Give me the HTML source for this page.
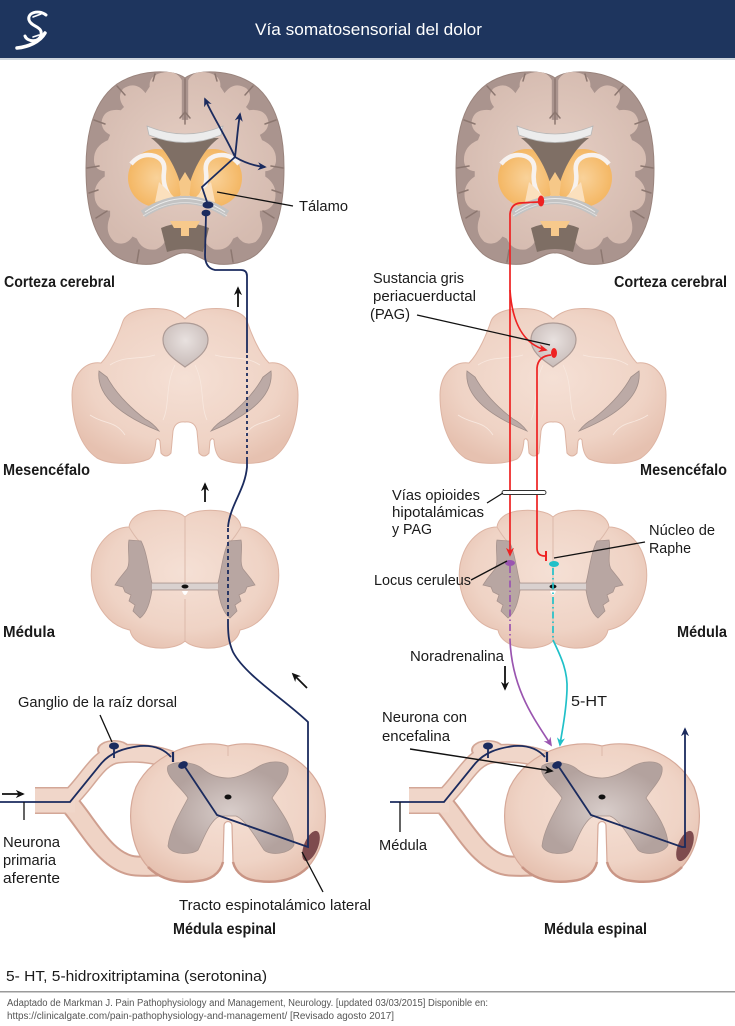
<!DOCTYPE html>
<html>
<head>
<meta charset="utf-8">
<style>
html,body{margin:0;padding:0;background:#fff;}
svg{display:block;}
text{font-family:"Liberation Sans",sans-serif;fill:#1a1a1a;}
.b{font-weight:bold;font-size:15.5px;}
.r{font-size:14.5px;}
</style>
</head>
<body>
<svg width="735" height="1026" viewBox="0 0 735 1026" xmlns="http://www.w3.org/2000/svg">
<defs>
  <radialGradient id="gPink" cx="50%" cy="45%" r="60%">
    <stop offset="0" stop-color="#f5e0d5"/>
    <stop offset="0.7" stop-color="#efd3c5"/>
    <stop offset="1" stop-color="#e6c1b0"/>
  </radialGradient>
  <radialGradient id="gWM" cx="50%" cy="50%" r="55%">
    <stop offset="0" stop-color="#e6cfc4"/>
    <stop offset="1" stop-color="#d5bbb0"/>
  </radialGradient>
  <radialGradient id="gOr" cx="50%" cy="50%" r="50%">
    <stop offset="0" stop-color="#f9d29a"/>
    <stop offset="1" stop-color="#f4b764"/>
  </radialGradient>
  <radialGradient id="gGray" cx="50%" cy="55%" r="50%">
    <stop offset="0" stop-color="#d8cdca"/>
    <stop offset="1" stop-color="#b3a29e"/>
  </radialGradient>
  <radialGradient id="gAq" cx="50%" cy="40%" r="55%">
    <stop offset="0" stop-color="#e8e1df"/>
    <stop offset="1" stop-color="#cbbfbc"/>
  </radialGradient>
  <marker id="aN" viewBox="0 0 10 10" refX="8" refY="5" markerWidth="9" markerHeight="9" markerUnits="userSpaceOnUse" orient="auto"><path d="M0,0.5 L10,5 L0,9.5 L3,5 Z" fill="#1b2b5e"/></marker>
  <marker id="aK" viewBox="0 0 10 10" refX="8" refY="5" markerWidth="9" markerHeight="9" markerUnits="userSpaceOnUse" orient="auto"><path d="M0,0.5 L10,5 L0,9.5 L3,5 Z" fill="#111"/></marker>
  <marker id="aR" viewBox="0 0 10 10" refX="8" refY="5" markerWidth="9" markerHeight="9" markerUnits="userSpaceOnUse" orient="auto"><path d="M0,0.5 L10,5 L0,9.5 L3,5 Z" fill="#ee2222"/></marker>
  <marker id="aP" viewBox="0 0 10 10" refX="8" refY="5" markerWidth="9" markerHeight="9" markerUnits="userSpaceOnUse" orient="auto"><path d="M0,0.5 L10,5 L0,9.5 L3,5 Z" fill="#9a55b0"/></marker>
  <marker id="aC" viewBox="0 0 10 10" refX="8" refY="5" markerWidth="9" markerHeight="9" markerUnits="userSpaceOnUse" orient="auto"><path d="M0,0.5 L10,5 L0,9.5 L3,5 Z" fill="#20c0c8"/></marker>

  <!-- Brain coronal section -->
  <g id="brain">
    <path d="M0,-90 C12,-99 45,-99 68,-84 C90,-68 99,-38 99,0 C99,40 92,68 72,86 C58,97 35,99 22,93 C12,88 5,84 0,85 C-5,84 -12,88 -22,93 C-35,99 -58,97 -72,86 C-92,68 -99,40 -99,0 C-99,-38 -90,-68 -68,-84 C-45,-99 -12,-99 0,-90 Z" fill="#aa948e" stroke="#9a847d" stroke-width="1"/>
    <path transform="scale(1.07)" d="M3,-82 Q8,-92 22,-89 Q34,-86 33,-76 L37,-70 Q46,-82 58,-74 Q64,-66 57,-57 L60,-54 Q76,-56 78,-43 Q78,-35 70,-31 L72,-26 Q86,-20 85,-6 Q84,2 75,3 L75,8 Q87,16 84,30 Q81,40 70,40 L70,45 Q76,60 66,69 Q56,74 49,64 L45,66 Q40,78 27,76 Q18,72 18,64 L8,56 L0,54 L-8,56 L-18,64 Q-18,72 -27,76 Q-40,78 -45,66 L-49,64 Q-56,74 -66,69 Q-76,60 -70,45 L-70,40 Q-81,40 -84,30 Q-87,16 -75,8 L-75,3 Q-84,2 -85,-6 Q-86,-20 -72,-26 L-70,-31 Q-78,-35 -78,-43 Q-76,-56 -60,-54 L-57,-57 Q-64,-66 -58,-74 Q-46,-82 -37,-70 L-33,-76 Q-34,-86 -22,-89 Q-8,-92 -3,-82 L-3,-45 L3,-45 Z" fill="url(#gWM)"/>
    <g stroke="#8c7770" stroke-width="1.5" fill="none" stroke-linecap="round">
      <path d="M0,-89 L0,-44"/>
      <path d="M0,-56 L-5,-50 M0,-56 L5,-50"/>
      <path d="M-98,0 L-86,-2 M98,0 L86,-2"/>
      <path d="M-68,-82 L-60,-73 M68,-82 L60,-73"/>
      <path d="M-91,-48 L-80,-44 M91,-48 L80,-44"/>
      <path d="M-89,50 L-78,43 M89,50 L78,43"/>
      <path d="M-48,94 L-46,82 M48,94 L46,82"/>
      <path d="M-30,-94 L-32,-87 M30,-94 L32,-87"/>
      <path d="M-96,25 L-87,22 M96,25 L87,22"/>
    </g>
    <!-- basal ganglia -->
    <circle cx="-28" cy="10" r="29" fill="url(#gOr)"/>
    <circle cx="28" cy="10" r="29" fill="url(#gOr)"/>
    <path d="M-54,-4 Q-44,-16 -30,-12 Q-19,-8 -21,4 Q-23,18 -14,30" stroke="#f7f2ef" stroke-width="4.5" fill="none"/>
    <path d="M54,-4 Q44,-16 30,-12 Q19,-8 21,4 Q23,18 14,30" stroke="#f7f2ef" stroke-width="4.5" fill="none"/>
    <path d="M-26,14 L-10,30 L-30,34 Z" fill="#fbe0bd"/>
    <path d="M26,14 L10,30 L30,34 Z" fill="#fbe0bd"/>
    <!-- ventricle -->
    <path d="M-34,-30 L34,-30 C20,-20 8,0 3,22 L-3,22 C-8,0 -20,-20 -34,-30 Z" fill="#7f6f65"/>
    <path d="M-6,14 L0,4 L6,14 L4,30 L-4,30 Z" fill="#f6c888"/>
    <!-- corpus callosum -->
    <path d="M-38,-42 Q0,-26 38,-42 L36,-33 Q0,-18 -36,-33 Z" fill="#ececec" stroke="#b8b8b8" stroke-width="0.8"/>
    <!-- hippocampal arcs -->
    <path d="M-42,46 Q0,18 42,46" stroke="#c3c3c3" stroke-width="8" fill="none"/>
    <path d="M-40,44 Q0,17 40,44" stroke="#ececec" stroke-width="1" fill="none"/>
    <path d="M-42,48 Q0,21 42,48" stroke="#e2e2e2" stroke-width="0.8" fill="none"/>
    <!-- bottom center -->
    <path d="M-24,60 Q0,50 24,60 L18,84 Q0,78 -18,84 Z" fill="#7e6e64"/>
    <path d="M-15,53 L15,53 L11,60 L4,60 L4,68 L-4,68 L-4,60 L-11,60 Z" fill="#f7c98c"/>
  </g>

  <!-- Mesencephalon -->
  <g id="mesen">
    <path d="M0,-66 C4,-70 12,-75 22,-76 C40,-78 58,-74 62,-64 C66,-52 74,-32 84,-22 C100,-24 113,-10 113,10 C113,38 104,62 88,73 C75,80 50,80 36,74 Q30,70 29,55 Q27,52 25,56 L24,68 Q19,74 14,68 L12,46 Q10,36 0,37 Q-10,36 -12,46 L-14,68 Q-19,74 -24,68 L-25,56 Q-27,52 -29,55 Q-30,70 -36,74 C-50,80 -75,80 -88,73 C-104,62 -113,38 -113,10 C-113,-10 -100,-24 -84,-22 C-74,-32 -66,-52 -62,-64 C-58,-74 -40,-78 -22,-76 C-12,-75 -4,-70 0,-66 Z" fill="url(#gPink)" stroke="#ddb4a3" stroke-width="1"/>
    <g stroke="#f8e8df" stroke-width="0.8" fill="none">
      <path d="M-10,-20 C-20,0 -15,20 -22,35"/>
      <path d="M10,-20 C20,0 15,20 22,35"/>
      <path d="M-30,-30 C-45,-25 -60,-30 -75,-20"/>
      <path d="M30,-30 C45,-25 60,-30 75,-20"/>
      <path d="M-95,30 C-80,40 -70,35 -60,50"/>
      <path d="M95,30 C80,40 70,35 60,50"/>
    </g>
    <path d="M0,-18 C-8,-24 -22,-32 -22,-45 C-22,-58 -10,-62 0,-62 C10,-62 23,-58 23,-45 C23,-32 8,-24 0,-18 Z" fill="url(#gAq)" stroke="#ad9b96" stroke-width="1.2"/>
    <path d="M-86,-14 Q-90,20 -26,46 Q-32,38 -40,34 Q-66,14 -78,-8 Z" fill="#bcaaa6" stroke="#a08e89" stroke-width="0.8"/>
    <path d="M86,-14 Q90,20 26,46 Q32,38 40,34 Q66,14 78,-8 Z" fill="#bcaaa6" stroke="#a08e89" stroke-width="0.8"/>
  </g>

  <!-- Medulla -->
  <g id="medulla">
    <path d="M0,-60 C-6,-66 -22,-68 -36,-66 C-48,-64 -55,-58 -56,-50 C-70,-50 -88,-38 -93,-12 C-96,8 -90,28 -76,42 C-68,50 -60,52 -55,53 C-53,64 -40,72 -20,71 C-10,70 -4,68 0,64 C4,68 10,70 20,71 C40,72 53,64 55,53 C60,52 68,50 76,42 C90,28 96,8 93,-12 C88,-38 70,-50 56,-50 C55,-58 48,-64 36,-66 C22,-68 6,-66 0,-60 Z" fill="url(#gPink)" stroke="#ddb4a3" stroke-width="1"/>
    <path d="M0,-60 L0,6 M0,22 L0,64 M-56,-50 Q-50,-40 -46,-36 M56,-50 Q50,-40 46,-36" stroke="#dcb9aa" stroke-width="1" fill="none"/>
    <path d="M-33,6 C-36,-5 -38,-25 -44,-36 L-56,-37 C-58,-28 -54,-15 -58,-8 L-66,2 L-70,8 L-62,10 L-60,15 L-54,18 L-56,24 L-50,28 L-52,34 L-45,41 C-38,36 -35,25 -33,13 L33,13 C35,25 38,36 45,41 L52,34 L50,28 L56,24 L54,18 L60,15 L62,10 L70,8 L66,2 L58,-8 C54,-15 58,-28 56,-37 L44,-36 C38,-25 36,-5 33,6 Z" fill="#b8a6a2" stroke="#a6928d" stroke-width="0.8"/>
    <rect x="-33" y="6.5" width="66" height="6" fill="#d9d1cf"/>
    <ellipse cx="0" cy="9.5" rx="3.5" ry="2" fill="#111"/>
    <path d="M-3,14 Q0,22 3,14 Z" fill="#fff"/>
  </g>

  <!-- Spinal cord with roots -->
  <g id="cord">
    <path d="M-160,-12 C-140,-30 -130,-56 -110,-58 C-90,-60 -70,-58 -52,-50" stroke="#d3a797" stroke-width="19" fill="none"/>
    <path d="M-160,-10 C-140,12 -122,52 -92,54 C-75,55 -60,54 -44,50" stroke="#cf9f8f" stroke-width="21" fill="none"/>
    <ellipse cx="-114" cy="-62" rx="17" ry="10" fill="#d3a797"/>
    <rect x="-193" y="-25" width="40" height="27" fill="#d3a797"/>
    <path d="M-160,-12 C-140,-30 -130,-56 -110,-58 C-90,-60 -70,-58 -52,-50" stroke="#f0d6c9" stroke-width="16" fill="none"/>
    <path d="M-160,-10 C-140,12 -122,52 -92,54 C-75,55 -60,54 -44,50" stroke="#efd3c5" stroke-width="17" fill="none"/>
    <ellipse cx="-114" cy="-62" rx="15" ry="8.5" fill="#f0d6c9"/>
    <rect x="-193" y="-23.5" width="40" height="24" fill="#f0d6c9"/>
    <path d="M0,-66 C30,-74 75,-60 92,-25 C102,0 98,35 80,55 C65,70 45,71 30,69 C18,68 8,62 5,50 L4,14 C4,8 -4,8 -4,14 L-5,50 C-8,62 -18,68 -30,69 C-45,71 -65,70 -80,55 C-98,35 -102,0 -92,-25 C-75,-60 -30,-74 0,-66 Z" fill="url(#gPink)" stroke="#d6a999" stroke-width="1.2"/>
    <path d="M-80,55 C-65,70 -45,71 -30,69 C-18,68 -8,62 -5,50 M5,50 C8,62 18,68 30,69 C45,71 65,70 80,55" stroke="#c99585" stroke-width="2.5" fill="none"/>
    <path d="M0,-66 L0,-56" stroke="#dcb9aa" stroke-width="1"/>
    <path d="M-60,-46 C-52,-52 -32,-50 -24,-42 C-16,-36 -8,-34 0,-34 C8,-34 18,-38 28,-44 C40,-52 56,-52 60,-45 C62,-34 50,-24 44,-14 C52,-2 66,16 66,33 C62,42 42,44 36,38 C28,26 18,8 8,4 L0,4 L-8,4 C-18,8 -24,26 -30,38 C-38,44 -58,42 -60,34 C-58,16 -46,-2 -40,-14 C-46,-24 -64,-36 -60,-46 Z" fill="url(#gGray)" stroke="#a8958f" stroke-width="0.8"/>
    <ellipse cx="0" cy="-15" rx="3.5" ry="2.5" fill="#111"/>
    <ellipse cx="83" cy="34" rx="7" ry="16" transform="rotate(22 83 34)" fill="#7e4b4e"/>
  </g>
</defs>

<!-- Header -->
<rect x="0" y="0" width="735" height="58" fill="#1e355e"/>
<rect x="0" y="58" width="735" height="2" fill="#cfd6de"/>
<g stroke="#fff" fill="none" stroke-linecap="round">
  <path d="M17,48 C28,47 40,42 45,33" stroke-width="3.5"/>
  <path d="M46,15 C38,9 27,13 29,20 C31,27 43,26 41,35 C39,43 27,42 25,36" stroke-width="3"/>
  <path d="M33,17 L41,14 M33,37 L39,35" stroke-width="1.6"/>
</g>
<text x="255" y="35" font-size="17" style="fill:#fff" textLength="227" lengthAdjust="spacingAndGlyphs">Vía somatosensorial del dolor</text>

<!-- Structures -->
<use href="#brain" transform="translate(185,168)"/>
<use href="#brain" transform="translate(555,168)"/>
<use href="#mesen" transform="translate(185,385)"/>
<use href="#mesen" transform="translate(553,385)"/>
<use href="#medulla" transform="translate(185,577)"/>
<use href="#medulla" transform="translate(553,577)"/>
<use href="#cord" transform="translate(228,812)"/>
<use href="#cord" transform="translate(602,812)"/>

<!-- LEFT navy pathway -->
<g stroke="#1b2b5e" stroke-width="1.8" fill="none">
  <path d="M0,802 L70,802 L100,765 C110,752 125,748 140,746 C155,745 165,750 171,757"/>
  <path d="M114,747 L114,758"/>
  <path d="M173,752 L173,762" stroke-width="2.2"/>
  <path d="M185,767 L217,815 L308,847 L308,722 C285,700 245,675 233,652 C229,643 228,635 228,623"/>
  <path d="M228,623 L228,527" stroke-dasharray="4,3"/>
  <path d="M228,527 C230,505 245,490 247,467 L247,460"/>
  <path d="M247,460 L247,353" stroke-dasharray="3,3"/>
  <path d="M247,353 L247,276 Q247,270 241,270 L215,270 Q205,268 205,255 L206,214"/>
  <path d="M208,205 L202,187 L235,157"/>
  <path d="M235,157 C245,163 255,166 265,167" marker-end="url(#aN)"/>
  <path d="M235,157 C237,140 238,125 240,114" marker-end="url(#aN)"/>
  <path d="M235,157 C225,135 212,115 205,99" marker-end="url(#aN)"/>
</g>
<g fill="#1b2b5e">
  <ellipse cx="114" cy="746" rx="5" ry="3.5"/>
  <ellipse cx="183" cy="765" rx="5" ry="3.5" transform="rotate(-25 183 765)"/>
  <ellipse cx="208" cy="205" rx="5.5" ry="3.5"/>
  <ellipse cx="206" cy="213" rx="4.5" ry="3.3"/>
</g>

<!-- RIGHT navy pathway -->
<g stroke="#1b2b5e" stroke-width="1.8" fill="none">
  <path d="M390,802 L444,802 L474,765 C484,752 499,748 514,746 C529,745 539,750 545,757"/>
  <path d="M488,747 L488,758"/>
  <path d="M547,752 L547,762" stroke-width="2.2"/>
  <path d="M559,767 L591,815 L682,847 L685,847 L685,729" marker-end="url(#aN)"/>
</g>
<g fill="#1b2b5e">
  <ellipse cx="488" cy="746" rx="5" ry="3.5"/>
  <ellipse cx="557" cy="765" rx="5" ry="3.5" transform="rotate(-25 557 765)"/>
</g>

<!-- Red pathways -->
<g stroke="#ee2222" stroke-width="1.7" fill="none">
  <path d="M538,202 L520,203 Q511,204 510,214 L510,555" marker-end="url(#aR)"/>
  <path d="M510,290 C512,320 522,344 546,350" marker-end="url(#aR)"/>
  <path d="M551,355 Q538,356 537,368 L537,548 Q537,556 545,556"/>
  <path d="M546,551 L546,561" stroke-width="2"/>
</g>
<ellipse cx="541" cy="201" rx="3.2" ry="5.5" fill="#ee2222"/>
<ellipse cx="554" cy="353" rx="3" ry="5" fill="#ee2222"/>

<!-- Purple & cyan -->
<path d="M510,566 L510,640" stroke="#9a55b0" stroke-width="1.7" stroke-dasharray="7,3,1.5,3" fill="none"/>
<path d="M510,640 C512,690 535,720 551,745" stroke="#9a55b0" stroke-width="1.7" fill="none" marker-end="url(#aP)"/>
<ellipse cx="510" cy="563" rx="5" ry="3" fill="#9a55b0"/>
<path d="M553,568 L553,640" stroke="#20c0c8" stroke-width="1.7" stroke-dasharray="7,3,1.5,3" fill="none"/>
<path d="M553,640 C560,655 568,670 567,690 C566,715 562,730 560,745" stroke="#20c0c8" stroke-width="1.7" fill="none" marker-end="url(#aC)"/>
<ellipse cx="554" cy="564" rx="5" ry="3" fill="#20c0c8"/>

<!-- Vías opioides bar -->
<rect x="502" y="490.5" width="44" height="4" rx="2" fill="#fff" stroke="#333" stroke-width="0.9"/>

<!-- Leader lines -->
<g stroke="#111" stroke-width="1.3" fill="none">
  <path d="M217,192 L293,206"/>
  <path d="M417,315 L550,345"/>
  <path d="M487,503 L503,493"/>
  <path d="M554,558 L645,542"/>
  <path d="M471,580 L507,561"/>
  <path d="M100,715 L112,742"/>
  <path d="M24,802 L24,820"/>
  <path d="M323,892 L302,852"/>
  <path d="M400,802 L400,832"/>
</g>
<!-- Black arrows -->
<g stroke="#111" stroke-width="1.8" fill="none">
  <path d="M238,307 L238,288" marker-end="url(#aK)"/>
  <path d="M205,502 L205,484" marker-end="url(#aK)"/>
  <path d="M307,688 L293,674" marker-end="url(#aK)"/>
  <path d="M2,794 L23,794" marker-end="url(#aK)"/>
  <path d="M505,666 L505,689" marker-end="url(#aK)"/>
  <path d="M410,749 L552,771" stroke-width="1.4" marker-end="url(#aK)"/>
</g>

<!-- Labels -->
<text class="b" x="4" y="287" textLength="111" lengthAdjust="spacingAndGlyphs">Corteza cerebral</text>
<text class="b" x="614" y="287" textLength="113" lengthAdjust="spacingAndGlyphs">Corteza cerebral</text>
<text class="r" x="299" y="211" textLength="49" lengthAdjust="spacingAndGlyphs">Tálamo</text>
<text class="r" x="373" y="283" textLength="91" lengthAdjust="spacingAndGlyphs">Sustancia gris</text>
<text class="r" x="373" y="301" textLength="103" lengthAdjust="spacingAndGlyphs">periacuerductal</text>
<text class="r" x="370" y="319" textLength="40" lengthAdjust="spacingAndGlyphs">(PAG)</text>
<text class="b" x="3" y="475" textLength="87" lengthAdjust="spacingAndGlyphs">Mesencéfalo</text>
<text class="b" x="640" y="475" textLength="87" lengthAdjust="spacingAndGlyphs">Mesencéfalo</text>
<text class="b" x="3" y="637" textLength="52" lengthAdjust="spacingAndGlyphs">Médula</text>
<text class="b" x="677" y="637" textLength="50" lengthAdjust="spacingAndGlyphs">Médula</text>
<text class="r" x="392" y="500" textLength="88" lengthAdjust="spacingAndGlyphs">Vías opioides</text>
<text class="r" x="392" y="517" textLength="92" lengthAdjust="spacingAndGlyphs">hipotalámicas</text>
<text class="r" x="392" y="534" textLength="40" lengthAdjust="spacingAndGlyphs">y PAG</text>
<text class="r" x="649" y="535" textLength="66" lengthAdjust="spacingAndGlyphs">Núcleo de</text>
<text class="r" x="649" y="553" textLength="42" lengthAdjust="spacingAndGlyphs">Raphe</text>
<text class="r" x="374" y="585" textLength="97" lengthAdjust="spacingAndGlyphs">Locus ceruleus</text>
<text class="r" x="410" y="661" textLength="94" lengthAdjust="spacingAndGlyphs">Noradrenalina</text>
<text class="r" x="571" y="706" textLength="36" lengthAdjust="spacingAndGlyphs">5-HT</text>
<text class="r" x="382" y="722" textLength="85" lengthAdjust="spacingAndGlyphs">Neurona con</text>
<text class="r" x="382" y="741" textLength="68" lengthAdjust="spacingAndGlyphs">encefalina</text>
<text class="r" x="18" y="707" textLength="159" lengthAdjust="spacingAndGlyphs">Ganglio de la raíz dorsal</text>
<text class="r" x="3" y="847" textLength="57" lengthAdjust="spacingAndGlyphs">Neurona</text>
<text class="r" x="3" y="865" textLength="53" lengthAdjust="spacingAndGlyphs">primaria</text>
<text class="r" x="3" y="883" textLength="57" lengthAdjust="spacingAndGlyphs">aferente</text>
<text class="r" x="379" y="850" textLength="48" lengthAdjust="spacingAndGlyphs">Médula</text>
<text class="r" x="179" y="910" textLength="192" lengthAdjust="spacingAndGlyphs">Tracto espinotalámico lateral</text>
<text class="b" x="173" y="934" textLength="103" lengthAdjust="spacingAndGlyphs">Médula espinal</text>
<text class="b" x="544" y="934" textLength="103" lengthAdjust="spacingAndGlyphs">Médula espinal</text>

<!-- Footer -->
<text x="6" y="981" font-size="15" textLength="261" lengthAdjust="spacingAndGlyphs">5- HT, 5-hidroxitriptamina (serotonina)</text>
<rect x="0" y="991" width="735" height="1.5" fill="#9a9a9a"/>
<text x="7" y="1006" font-size="10" style="fill:#555" textLength="481" lengthAdjust="spacingAndGlyphs">Adaptado de Markman J. Pain Pathophysiology and Management, Neurology. [updated 03/03/2015] Disponible en:</text>
<text x="7" y="1019" font-size="10" style="fill:#555" textLength="387" lengthAdjust="spacingAndGlyphs">https://clinicalgate.com/pain-pathophysiology-and-management/ [Revisado agosto 2017]</text>
</svg>
</body>
</html>
